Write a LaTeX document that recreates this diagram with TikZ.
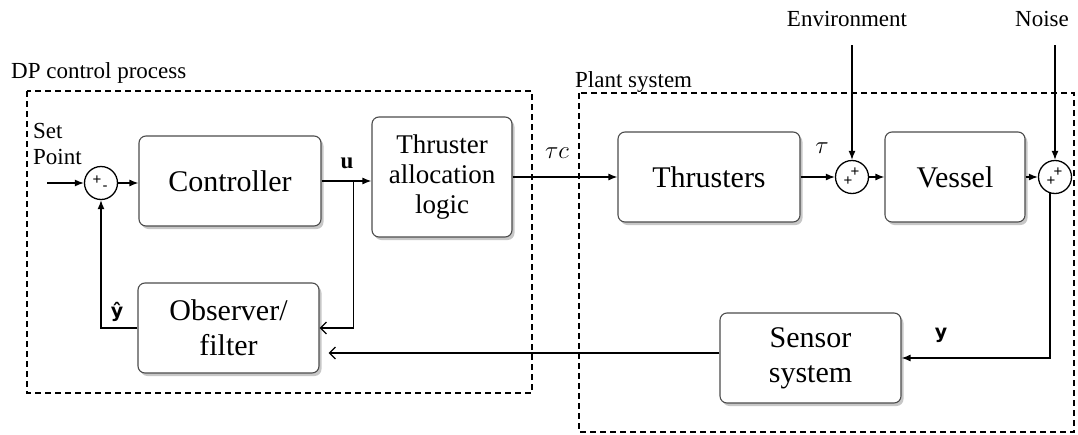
\documentclass[tikz,border=0pt]{standalone}
\usepackage{fontspec}
\setmainfont{Liberation Serif}
\newfontfamily\lblsans{DejaVu Sans}
\newfontfamily\signfont{Liberation Sans}
\usetikzlibrary{arrows.meta,shadows,calc}
\tikzset{
  blk/.style={draw=black!70, line width=1.1pt, rounded corners=7pt, fill=white, align=center, inner sep=0pt,
    drop shadow={shadow xshift=2.5pt, shadow yshift=-3pt, opacity=0.22, fill=black}},
  bigtxt/.style={font=\fontsize{30}{35}\selectfont},
  sumc/.style={draw, circle, line width=1.3pt, minimum size=33pt, inner sep=0pt},
  sgn/.style={font=\signfont\fontsize{15}{15}\selectfont, inner sep=0pt},
  lbl/.style={font=\fontsize{23}{26}\selectfont, inner sep=0pt},
  farr/.style={line width=1.3pt, -{Latex[length=9pt,width=7pt]}},
  oarr/.style={line width=1.3pt, -{Straight Barb[length=6pt,width=12pt,line width=1.3pt]}},
  grp/.style={line width=1.3pt, dash pattern=on 6pt off 4pt},
}
\begin{document}
\begin{tikzpicture}[x=1pt,y=-1pt]
\useasboundingbox (0,0) rectangle (1078,434);
% group frames
\draw[grp] (27,91) rectangle (532,393);
\draw[grp] (579,93) rectangle (1074,432);
\node[lbl, anchor=base west] (dpl) at (11,78) {DP control process};
\node[lbl, anchor=base west] (psl) at (575,87) {Plant system};

% blocks
\node[blk, bigtxt, minimum width=182pt, minimum height=90pt] (ctrl) at (230,181) {Controller};
\node[blk, font=\fontsize{27}{30}\selectfont, minimum width=140pt, minimum height=120pt] (alloc) at (442,177) {Thruster\\allocation\\logic};
\node[blk, bigtxt, minimum width=182pt, minimum height=90pt] (thr) at (709,177) {Thrusters};
\node[blk, bigtxt, minimum width=140pt, minimum height=90pt] (ves) at (955,177) {Vessel};
\node[blk, bigtxt, minimum width=181pt, minimum height=90pt] (obs) at (228.5,328) {Observer/\\filter};
\node[blk, bigtxt, minimum width=181pt, minimum height=90pt] (sens) at (810.5,358) {Sensor\\system};

% summing junctions (y axis points down)
\node[sumc] (sum1) at (101,183) {};
\node[sgn] (s1a) at ($(sum1)+(-4,-3)$) {+};
\node[sgn] (s1b) at ($(sum1)+(4,5)$) {-};
\node[sumc] (sum2) at (852,177) {};
\node[sgn] (s2a) at ($(sum2)+(-4,4)$) {+};
\node[sgn] (s2b) at ($(sum2)+(3,-5)$) {+};
\node[sumc] (sum3) at (1055,177) {};
\node[sgn] (s3a) at ($(sum3)+(-4,4)$) {+};
\node[sgn] (s3b) at ($(sum3)+(3,-5)$) {+};

% external inputs
\node[lbl, anchor=base west] (set1) at (33,138) {Set};
\node[lbl, anchor=base west] (set2) at (33,164) {Point};
\coordinate (spin) at (47,183);
\node[lbl, anchor=base] (envl) at (847,26) {Environment};
\node[lbl, anchor=base] (noisel) at (1042,26) {Noise};
\coordinate (envtop) at (852,45);
\coordinate (noisetop) at (1055,45);

% connectors
\draw[farr] (spin) -- (sum1);
\draw[farr] (sum1.east) -- (sum1.east -| ctrl.west);
\draw[farr] (ctrl.east) -- (ctrl.east -| alloc.west);
\coordinate (br) at ($(ctrl.east)+(32,0)$);
\draw[oarr] (br) |- (obs.east);
\draw[farr] (alloc.east |- thr.west) -- (thr.west);
\draw[farr] (thr) -- (sum2);
\draw[farr] (sum2) -- (ves);
\draw[farr] (ves) -- (sum3);
\draw[farr] (envtop) -- (sum2);
\draw[farr] (noisetop) -- (sum3);
\draw[farr] (sum3.253) |- (sens.east);
\coordinate (lowin) at ([yshift=-25pt]obs.east);
\draw[oarr, shorten >=9pt] (sens.west |- lowin) -- (lowin);
\draw[farr] (obs.west) -| (sum1.south);

% signal labels
\node[font=\bfseries\fontsize{23}{26}\selectfont, inner sep=0pt, anchor=base] (ul) at (347,168) {u};
\node[lbl, anchor=base] (tcl) at (557,158) {$\tau c$};
\node[lbl, anchor=base] (tl) at (822,153) {$\tau$};
\node[font=\lblsans\bfseries\fontsize{19}{20}\selectfont, inner sep=0pt, anchor=base] (yl) at (941,338) {y};
\node[font=\lblsans\bfseries\fontsize{19}{20}\selectfont, inner sep=0pt, anchor=base] (yhl) at (117,317) {ŷ};
\end{tikzpicture}
\end{document}
